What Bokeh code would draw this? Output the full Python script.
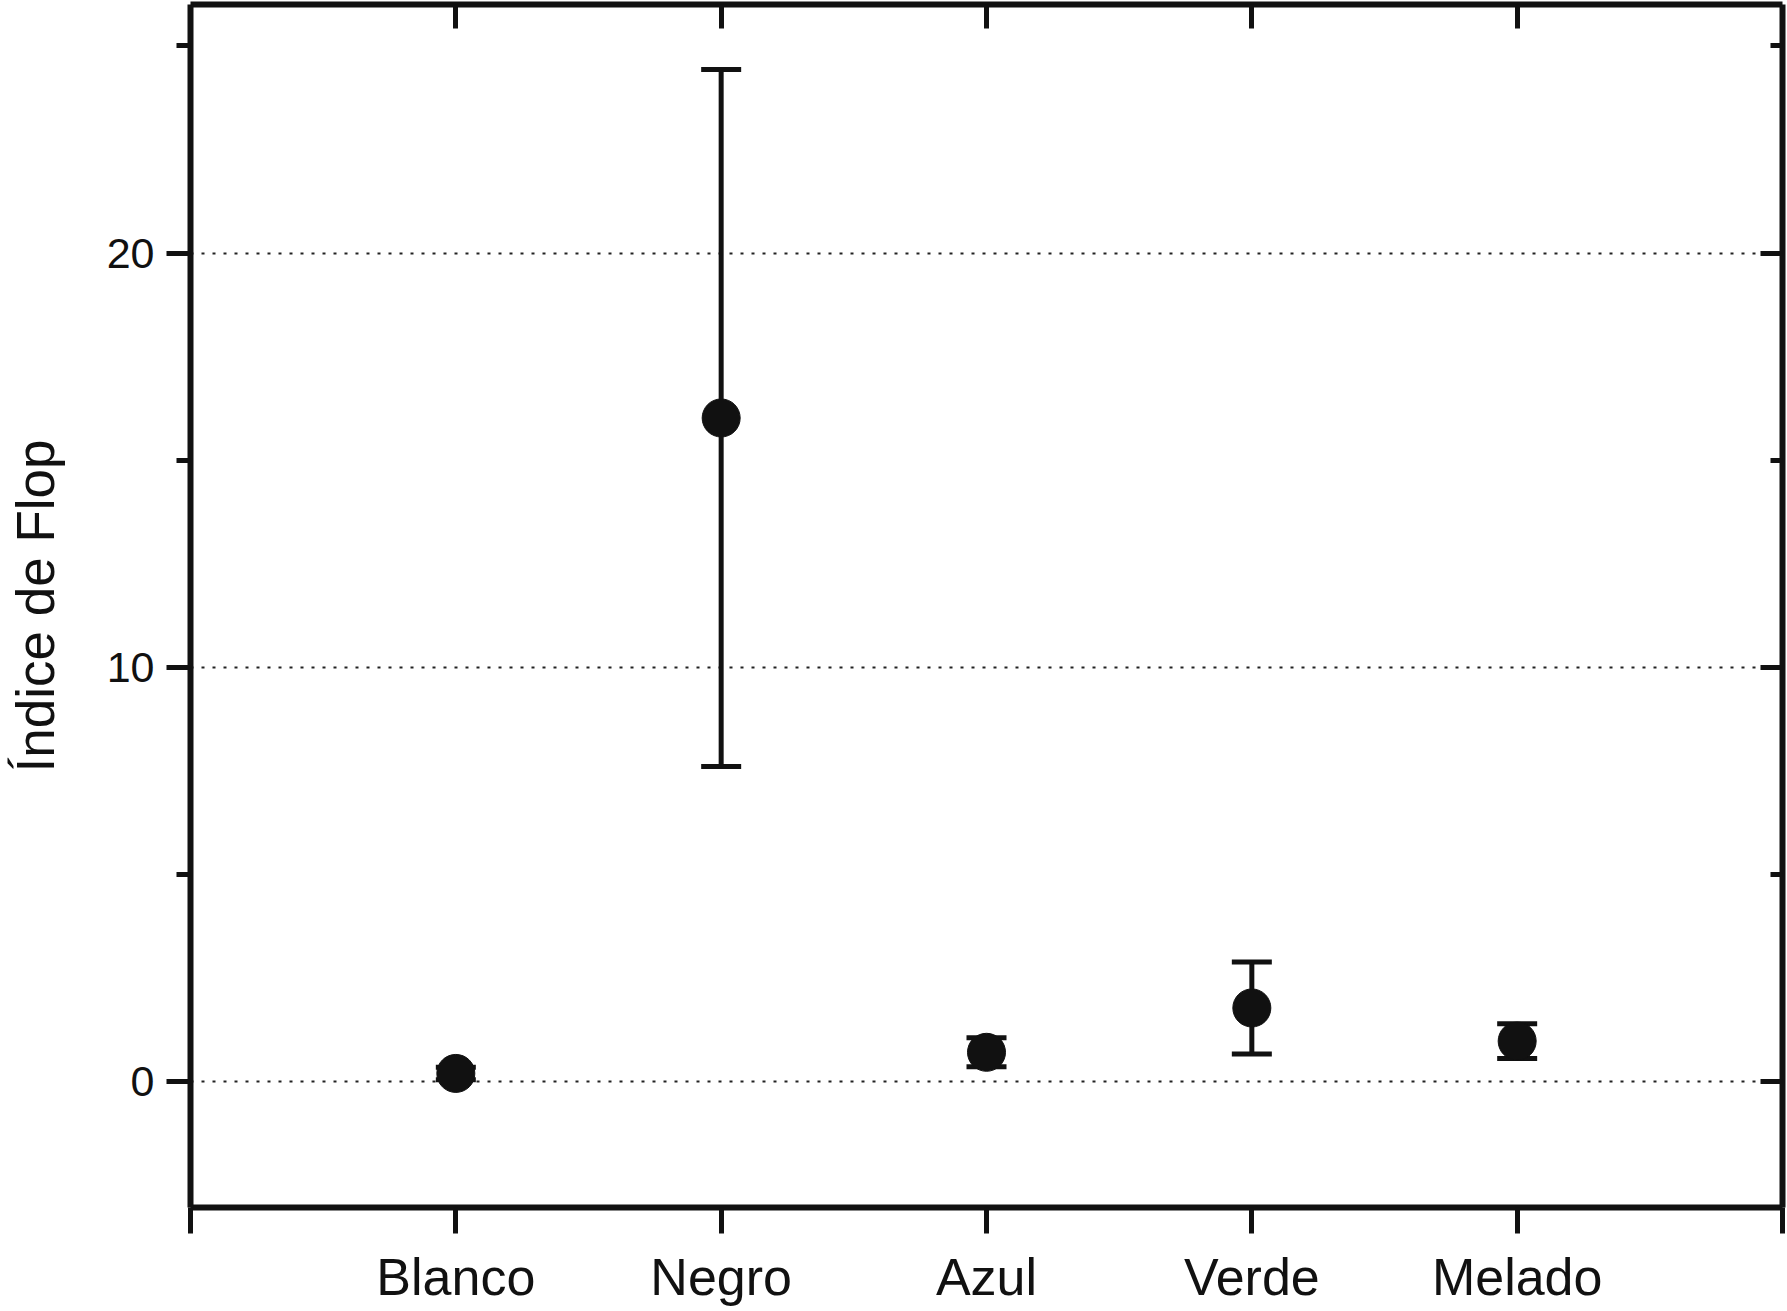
from bokeh.plotting import figure
from bokeh.models import (ColumnDataSource, Whisker, TeeHead, FixedTicker,
                          LinearAxis, Range1d)
from bokeh.embed import file_html
from bokeh.resources import INLINE

# ---- data ----
categories = ["Blanco", "Negro", "Azul", "Verde", "Melado"]
x_pos = [1, 2, 3, 4, 5]
means = [0.2, 16.02, 0.71, 1.78, 0.98]
errors = [0.15, 8.41, 0.35, 1.11, 0.42]
y_major = [0, 10, 20]
y_minor = [5, 15, 25]
x_ticks = [0, 1, 2, 3, 4, 5, 6]
y_title = "Índice de Flop"

INK = "#111111"
FONT = "Liberation Sans"

src = ColumnDataSource(dict(
    x=x_pos, y=means,
    lower=[m - e for m, e in zip(means, errors)],
    upper=[m + e for m, e in zip(means, errors)],
))

p = figure(width=1787, height=1311, output_backend="svg", toolbar_location=None,
           x_range=Range1d(0, 6), y_range=Range1d(-3.036, 26.0),
           x_axis_location=None, y_axis_location=None,
           min_border_left=190, min_border_right=5, min_border_top=4,
           min_border_bottom=104)
p.outline_line_color = None
p.background_fill_color = "white"
p.border_fill_color = "white"

def style(ax):
    ax.axis_line_width = 6
    ax.axis_line_color = INK
    ax.major_tick_line_width = 5
    ax.minor_tick_line_width = 5
    ax.major_tick_line_color = INK
    ax.minor_tick_line_color = INK
    ax.major_label_text_font = FONT
    ax.major_label_text_color = INK

# left axis
left = LinearAxis(ticker=FixedTicker(ticks=y_major, minor_ticks=y_minor))
style(left)
left.major_tick_out = 24
left.major_tick_in = 0
left.minor_tick_out = 14
left.minor_tick_in = 0
left.major_label_text_font_size = "43px"
left.major_label_standoff = 12
left.axis_label = y_title
left.axis_label_text_font = FONT
left.axis_label_text_font_size = "53px"
left.axis_label_text_font_style = "normal"
left.axis_label_text_color = INK
left.axis_label_standoff = 39
p.add_layout(left, "left")

# right axis (ticks inward, no labels)
right = LinearAxis(ticker=FixedTicker(ticks=y_major, minor_ticks=y_minor))
style(right)
right.major_tick_out = 0
right.major_tick_in = 22
right.minor_tick_out = 0
right.minor_tick_in = 12
right.major_label_text_font_size = "0px"
right.major_label_text_color = None
right.major_label_standoff = 0
p.add_layout(right, "right")

# bottom axis
bottom = LinearAxis(ticker=FixedTicker(ticks=x_ticks, minor_ticks=[]))
style(bottom)
bottom.major_tick_out = 26
bottom.major_tick_in = 0
bottom.major_label_text_font_size = "52px"
bottom.major_label_standoff = 14
overrides = {0: "", 6: ""}
for xp, c in zip(x_pos, categories):
    overrides[xp] = c
bottom.major_label_overrides = overrides
p.add_layout(bottom, "below")

# top axis (ticks inward, no labels)
top = LinearAxis(ticker=FixedTicker(ticks=x_pos, minor_ticks=[]))
style(top)
top.major_tick_out = 0
top.major_tick_in = 24
top.major_label_text_font_size = "0px"
top.major_label_text_color = None
top.major_label_standoff = 0
p.add_layout(top, "above")

# grid
p.xgrid.visible = False
p.ygrid.ticker = FixedTicker(ticks=y_major)
p.ygrid.grid_line_color = "#222222"
p.ygrid.grid_line_width = 2
p.ygrid.grid_line_dash = "3 8"

# error bars
w = Whisker(source=src, base="x", lower="lower", upper="upper",
            line_color=INK, line_width=5,
            upper_head=TeeHead(size=40, line_width=5, line_color=INK),
            lower_head=TeeHead(size=40, line_width=5, line_color=INK))
p.add_layout(w)

p.scatter("x", "y", source=src, marker="circle", size=38,
          fill_color=INK, line_color=INK)

open("out.html", "w").write(file_html(p, INLINE))
